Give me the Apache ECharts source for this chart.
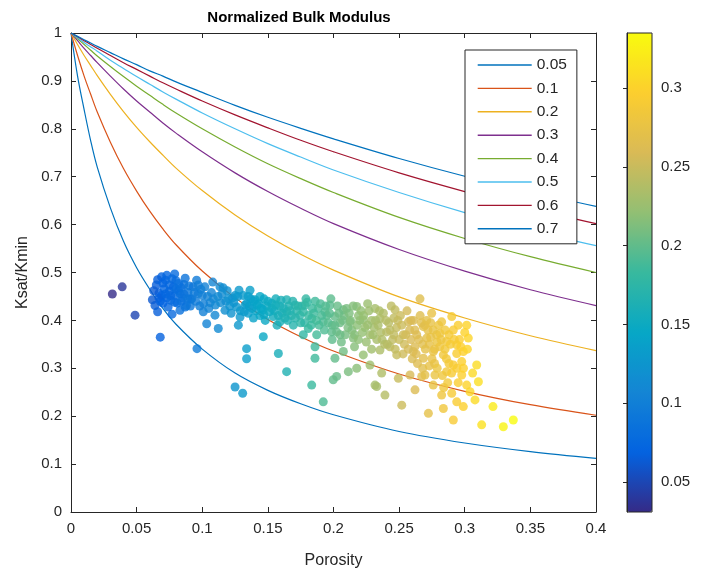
<!DOCTYPE html>
<html>
<head>
<meta charset="utf-8">
<script src="https://cdn.jsdelivr.net/npm/echarts@6/dist/echarts.min.js"></script>
<style>
  html, body { margin: 0; padding: 0; background: #fff; }
  #chart { width: 709px; height: 577px; }
</style>
</head>
<body>
<div id="chart"></div>
<script>
// Pore aspect-ratio curves: normalized bulk modulus vs porosity
const aspectRatios = ['0.05', '0.1', '0.2', '0.3', '0.4', '0.5', '0.6', '0.7'];
const curvePorosity = [0, 0.005, 0.01, 0.015, 0.02, 0.03, 0.04, 0.05, 0.06, 0.07, 0.08, 0.1, 0.125, 0.15, 0.175, 0.2, 0.25, 0.3, 0.35, 0.4];
const kAR005 = [1, 0.91, 0.84, 0.775, 0.72, 0.635, 0.565, 0.51, 0.465, 0.425, 0.392, 0.34, 0.29, 0.254, 0.226, 0.203, 0.168, 0.144, 0.126, 0.112];
const kAR01  = [1, 0.953, 0.91, 0.872, 0.835, 0.772, 0.717, 0.67, 0.628, 0.591, 0.558, 0.503, 0.447, 0.402, 0.366, 0.336, 0.288, 0.252, 0.224, 0.202];
const kAR02  = [1, 0.976, 0.953, 0.932, 0.911, 0.872, 0.836, 0.803, 0.773, 0.745, 0.718, 0.671, 0.62, 0.576, 0.538, 0.505, 0.449, 0.405, 0.368, 0.337];
const kAR03  = [1, 0.984, 0.968, 0.953, 0.938, 0.91, 0.883, 0.858, 0.835, 0.812, 0.791, 0.752, 0.708, 0.669, 0.634, 0.602, 0.548, 0.503, 0.464, 0.431];
const kAR04  = [1, 0.988, 0.976, 0.964, 0.952, 0.93, 0.909, 0.889, 0.87, 0.851, 0.833, 0.8, 0.762, 0.727, 0.696, 0.667, 0.615, 0.571, 0.533, 0.5];
const kAR05  = [1, 0.99, 0.98, 0.971, 0.962, 0.943, 0.926, 0.909, 0.893, 0.877, 0.862, 0.833, 0.8, 0.769, 0.741, 0.714, 0.667, 0.625, 0.588, 0.556];
const kAR06  = [1, 0.992, 0.984, 0.976, 0.968, 0.953, 0.938, 0.924, 0.91, 0.896, 0.883, 0.858, 0.829, 0.802, 0.776, 0.752, 0.708, 0.669, 0.634, 0.602];
const kAR07  = [1, 0.993, 0.986, 0.979, 0.972, 0.959, 0.946, 0.934, 0.921, 0.91, 0.898, 0.876, 0.849, 0.824, 0.801, 0.779, 0.738, 0.701, 0.668, 0.638];
const curveValues = [kAR005, kAR01, kAR02, kAR03, kAR04, kAR05, kAR06, kAR07];
const curveColors = ['#0072BD', '#D95319', '#EDB120', '#7E2F8E', '#77AC30', '#4DBEEE', '#A2142F', '#0072BD'];

// Measured samples: [porosity, Ksat/Kmin]
const samples = [
  [0.0315,0.455],[0.039,0.470],[0.0488,0.411],
  [0.062,0.443],[0.064,0.431],[0.065,0.474],[0.066,0.418],[0.067,0.457],[0.068,0.365],[0.069,0.491],[0.069,0.452],[0.068,0.44],
  [0.071,0.466],[0.072,0.484],[0.073,0.447],[0.074,0.428],[0.075,0.461],[0.076,0.442],[0.077,0.413],[0.078,0.47],[0.079,0.497],[0.079,0.452],
  [0.080,0.483],[0.081,0.436],[0.082,0.462],[0.083,0.456],[0.083,0.421],[0.085,0.447],[0.086,0.475],[0.087,0.428],[0.088,0.431],[0.089,0.458],
  [0.091,0.444],[0.092,0.445],[0.093,0.47],[0.0957,0.484],[0.096,0.341],[0.097,0.456],[0.098,0.43],[0.099,0.465],
  [0.1008,0.418],[0.1034,0.393],[0.104,0.45],[0.106,0.437],[0.108,0.48],[0.1084,0.445],[0.1097,0.411],
  [0.1122,0.383],[0.1135,0.47],[0.115,0.455],[0.1173,0.421],[0.118,0.44],[0.119,0.462],
  [0.121,0.43],[0.123,0.447],[0.125,0.452],[0.125,0.261],[0.1262,0.428],[0.1275,0.39],[0.1288,0.407],[0.128,0.463],
  [0.1308,0.248],[0.1313,0.452],[0.1326,0.432],[0.1338,0.435],[0.1338,0.341],[0.1338,0.32],[0.1351,0.415],[0.1364,0.463],[0.137,0.445],[0.138,0.425],[0.139,0.405],
  [0.1402,0.443],[0.141,0.42],[0.143,0.435],[0.144,0.41],[0.1465,0.422],[0.1465,0.366],[0.147,0.445],[0.148,0.4],[0.149,0.43],
  [0.1529,0.436],[0.1541,0.408],[0.155,0.42],[0.156,0.445],[0.157,0.39],[0.158,0.331],[0.1592,0.397],[0.159,0.43],
  [0.161,0.415],[0.1643,0.443],[0.1643,0.418],[0.1643,0.293],[0.165,0.4],[0.166,0.43],[0.168,0.41],[0.1694,0.39],[0.1707,0.432],
  [0.172,0.42],[0.1745,0.411],[0.176,0.43],[0.177,0.37],[0.1783,0.432],[0.178,0.395],[0.179,0.445],
  [0.1808,0.383],[0.1834,0.404],[0.1834,0.265],[0.184,0.425],[0.1859,0.321],[0.1859,0.345],[0.1872,0.37],[0.1884,0.425],[0.189,0.39],[0.186,0.44],
  [0.1922,0.397],[0.1922,0.23],[0.1935,0.418],[0.1973,0.432],[0.1986,0.376],[0.1998,0.276],[0.195,0.41],[0.198,0.445],[0.199,0.39],
  [0.2011,0.408],[0.2011,0.321],[0.2024,0.376],[0.2024,0.283],[0.2075,0.422],[0.2075,0.335],[0.203,0.43],[0.205,0.395],[0.206,0.355],[0.208,0.41],[0.209,0.37],
  [0.2113,0.293],[0.2126,0.397],[0.2151,0.363],[0.2177,0.429],[0.2177,0.300],[0.212,0.415],[0.214,0.38],[0.216,0.345],[0.218,0.39],[0.219,0.41],
  [0.2227,0.401],[0.2227,0.328],[0.2278,0.370],[0.2278,0.307],[0.221,0.42],[0.224,0.385],[0.225,0.355],[0.226,0.435],[0.229,0.4],[0.229,0.34],
  [0.2316,0.425],[0.2316,0.265],[0.2329,0.262],[0.2354,0.404],[0.2354,0.338],[0.2367,0.290],[0.2392,0.244],[0.231,0.385],[0.233,0.36],[0.236,0.375],[0.238,0.415],[0.239,0.35],
  [0.2405,0.376],[0.2469,0.422],[0.2482,0.328],[0.2494,0.279],[0.242,0.395],[0.243,0.345],[0.245,0.36],[0.246,0.405],[0.248,0.385],[0.244,0.43],
  [0.2532,0.370],[0.252,0.223],[0.2571,0.397],[0.2583,0.286],[0.2608,0.335],[0.2621,0.255],[0.251,0.41],[0.254,0.35],[0.256,0.42],[0.258,0.38],[0.259,0.36],
  [0.2634,0.370],[0.2659,0.445],[0.2672,0.283],[0.2685,0.387],[0.2697,0.390],[0.271,0.363],[0.2685,0.321],[0.2697,0.286],[0.261,0.40],[0.262,0.345],[0.264,0.31],[0.266,0.41],[0.268,0.35],
  [0.2748,0.415],[0.2761,0.335],[0.2773,0.286],[0.2723,0.206],[0.276,0.265],[0.2786,0.370],[0.272,0.38],[0.274,0.395],[0.273,0.35],[0.277,0.31],[0.279,0.355],[0.275,0.32],
  [0.2824,0.397],[0.2837,0.328],[0.2862,0.356],[0.2862,0.293],[0.2824,0.244],[0.2837,0.216],[0.2811,0.373],[0.281,0.345],[0.285,0.38],[0.288,0.31],[0.287,0.27],[0.284,0.26],
  [0.2901,0.408],[0.2913,0.380],[0.2939,0.349],[0.2913,0.307],[0.2939,0.331],[0.2977,0.314],[0.2977,0.286],[0.2989,0.335],[0.2901,0.248],[0.2939,0.230],[0.2989,0.220],[0.2913,0.192],[0.296,0.36],[0.295,0.27],
  [0.3015,0.390],[0.3027,0.363],[0.3015,0.265],[0.304,0.251],[0.3078,0.234],[0.3091,0.307],[0.3104,0.272],[0.3129,0.182],[0.3215,0.220],[0.3294,0.178],[0.337,0.192],[0.306,0.29],
  // dense core of the main cloud
  [0.063,0.462],[0.066,0.485],[0.067,0.447],[0.070,0.478],[0.070,0.436],[0.072,0.455],[0.073,0.494],[0.075,0.474],[0.076,0.452],[0.077,0.487],
  [0.079,0.438],[0.080,0.466],[0.082,0.477],[0.084,0.468],[0.084,0.44],[0.086,0.455],[0.087,0.488],[0.089,0.445],[0.090,0.472],[0.091,0.43],
  [0.094,0.458],[0.095,0.44],[0.097,0.474],[0.1,0.452],[0.101,0.435],[0.102,0.47],[0.105,0.425],[0.107,0.458],[0.11,0.432],[0.112,0.45],
  [0.114,0.437],[0.116,0.468],[0.12,0.445],[0.122,0.415],[0.124,0.437],[0.127,0.45],[0.129,0.42],
  [0.132,0.418],[0.135,0.45],[0.136,0.43],[0.139,0.44],[0.142,0.432],[0.144,0.45],[0.145,0.425],[0.147,0.412],[0.15,0.44],[0.151,0.418],
  [0.153,0.425],[0.156,0.432],[0.158,0.41],[0.16,0.442],[0.162,0.425],[0.163,0.405],[0.167,0.42],[0.169,0.44],[0.171,0.405],[0.173,0.43],
  [0.175,0.395],[0.177,0.418],[0.18,0.438],[0.181,0.41],[0.183,0.39],[0.185,0.415],[0.187,0.4],[0.19,0.435],[0.191,0.41],[0.193,0.38],
  [0.194,0.43],[0.196,0.395],[0.197,0.415],[0.199,0.36],
  [0.201,0.39],[0.204,0.415],[0.205,0.37],[0.207,0.4],[0.21,0.425],[0.211,0.385],[0.213,0.4],[0.215,0.43],[0.216,0.37],[0.219,0.36],
  [0.22,0.4],[0.222,0.375],[0.223,0.41],[0.226,0.39],[0.227,0.42],[0.23,0.37],[0.232,0.4],[0.234,0.39],[0.235,0.42],[0.237,0.36],
  [0.24,0.4],[0.241,0.35],[0.243,0.38],[0.246,0.37],[0.247,0.34],[0.249,0.4],[0.25,0.36],[0.252,0.39],[0.253,0.33],[0.255,0.37],
  [0.257,0.34],[0.259,0.4],[0.26,0.32],[0.262,0.38],[0.263,0.33],[0.265,0.36],[0.267,0.395],[0.268,0.3],[0.27,0.34],[0.271,0.4],
  [0.273,0.305],[0.274,0.365],[0.276,0.38],[0.277,0.34],[0.279,0.3],[0.28,0.39],[0.282,0.36],[0.283,0.285],[0.285,0.34],[0.286,0.32],
  [0.288,0.37],[0.289,0.35],[0.29,0.29],[0.292,0.36],[0.294,0.3],[0.295,0.39],[0.297,0.345],[0.299,0.3],[0.3,0.375],[0.302,0.34]
];

// Colour scale (porosity) and its tick labels
const colorMin = 0.031, colorMax = 0.335;
const colorTicks = [0.05, 0.1, 0.15, 0.2, 0.25, 0.3];
const parula = ['#352a87', '#0363e1', '#1485d4', '#06a7c6', '#38b99e', '#92bf73', '#d9ba56', '#fcce2e', '#f9fb0e'];

const FONT = 'Liberation Sans, Arial, Helvetica, sans-serif';
const INK = '#262626';
const fmt = v => String(+v.toFixed(2));

const chart = echarts.init(document.getElementById('chart'), null, { renderer: 'canvas' });

const lineSeries = aspectRatios.map((name, i) => ({
  name,
  type: 'line',
  xAxisIndex: 0, yAxisIndex: 0,
  data: curvePorosity.map((p, j) => [p, curveValues[i][j]]),
  smooth: 0.35,
  symbol: 'none',
  lineStyle: { color: curveColors[i], width: 1.2 },
  itemStyle: { color: curveColors[i] },
  z: 2,
  silent: true
}));

const axisCommon = {
  axisLine: { show: true, onZero: false, lineStyle: { color: INK, width: 1 } },
  axisTick: { show: true, inside: true, length: 5, lineStyle: { color: INK } },
  splitLine: { show: false },
  axisLabel: { color: INK, fontFamily: FONT, fontSize: 15, formatter: fmt }
};

chart.setOption({
  backgroundColor: '#ffffff',
  animation: false,
  title: {
    text: 'Normalized Bulk Modulus',
    left: 294, top: 5, textAlign: 'center',
    textStyle: { fontFamily: FONT, fontSize: 15, fontWeight: 'bold', color: '#000' }
  },
  grid: [
    { left: 71, top: 33, width: 525, height: 479, show: false },
    { left: 627, top: 33, width: 25, height: 479, show: true, z: 10, borderColor: INK, borderWidth: 1, backgroundColor: 'transparent' }
  ],
  xAxis: [
    Object.assign({}, axisCommon, {
      gridIndex: 0, type: 'value', min: 0, max: 0.4, interval: 0.05, position: 'bottom',
      name: 'Porosity', nameLocation: 'middle', nameGap: 41,
      nameTextStyle: { fontFamily: FONT, fontSize: 16, color: INK },
      axisLabel: Object.assign({}, axisCommon.axisLabel, { margin: 9 })
    }),
    Object.assign({}, axisCommon, {
      gridIndex: 0, type: 'value', min: 0, max: 0.4, interval: 0.05, position: 'top',
      axisLabel: { show: false }
    }),
    { gridIndex: 1, type: 'value', min: 0, max: 1, show: false }
  ],
  yAxis: [
    Object.assign({}, axisCommon, {
      gridIndex: 0, type: 'value', min: 0, max: 1, interval: 0.1, position: 'left',
      name: 'Ksat/Kmin', nameLocation: 'middle', nameGap: 40, nameRotate: 90,
      nameTextStyle: { fontFamily: FONT, fontSize: 16, color: INK },
      axisLabel: Object.assign({}, axisCommon.axisLabel, { margin: 9 })
    }),
    Object.assign({}, axisCommon, {
      gridIndex: 0, type: 'value', min: 0, max: 1, interval: 0.1, position: 'right',
      axisLabel: { show: false }
    }),
    {
      gridIndex: 1, type: 'value', min: colorMin, max: colorMax, position: 'right', z: 10,
      axisLine: { show: true, lineStyle: { color: INK } },
      axisTick: { show: true, inside: true, length: 4, customValues: colorTicks, lineStyle: { color: INK } },
      axisLabel: { show: true, customValues: colorTicks, color: INK, fontFamily: FONT, fontSize: 15, margin: 9, formatter: fmt },
      splitLine: { show: false }
    }
  ],
  legend: {
    show: true,
    orient: 'vertical',
    left: 465, top: 50,
    padding: [7, 10, 7, 12],
    itemWidth: 54, itemHeight: 14, itemGap: 7.4,
    borderColor: INK, borderWidth: 1, borderRadius: 0,
    backgroundColor: '#ffffff',
    data: aspectRatios.slice(),
    itemStyle: { opacity: 0 },
    lineStyle: { width: 1.4 },
    textStyle: { fontFamily: FONT, fontSize: 15.5, color: INK },
    selectedMode: false,
    z: 20
  },
  visualMap: {
    type: 'continuous',
    min: colorMin, max: colorMax,
    dimension: 0,
    seriesIndex: aspectRatios.length,
    orient: 'vertical',
    left: 627, top: 33,
    itemWidth: 25, itemHeight: 479,
    padding: 0,
    calculable: false,
    hoverLink: false,
    showLabel: false,
    inRange: { color: parula },
    z: 4
  },
  series: lineSeries.concat([{
    name: 'samples',
    type: 'scatter',
    xAxisIndex: 0, yAxisIndex: 0,
    data: samples,
    symbol: 'circle',
    symbolSize: 9,
    z: 5,
    silent: true
  }])
});
</script>
</body>
</html>
